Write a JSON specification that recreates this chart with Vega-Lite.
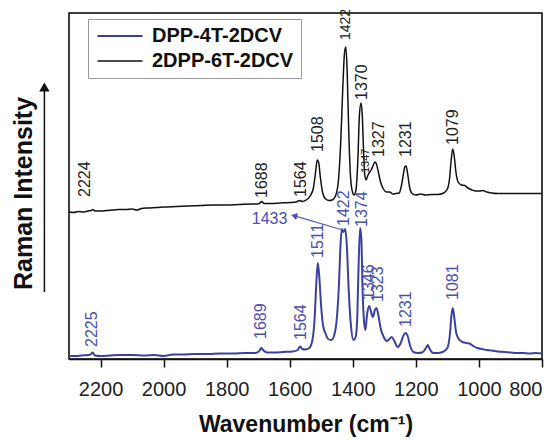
{
  "$schema": "https://vega.github.io/schema/vega-lite/v6.json",
  "width": 473,
  "height": 346,
  "autosize": {"type": "none"},
  "padding": {"left": 69, "top": 13, "right": 16, "bottom": 81},
  "background": "white",
  "config": {
    "view": {"stroke": "black", "strokeWidth": 1.5},
    "font": "Liberation Sans",
    "axis": {"grid": false}
  },
  "datasets": {
    "spectra": [
      {"series": "DPP-4T-2DCV", "wn": 2300, "I": 1.5},
      {"series": "DPP-4T-2DCV", "wn": 2280, "I": 1.5},
      {"series": "DPP-4T-2DCV", "wn": 2260, "I": 1.75},
      {"series": "DPP-4T-2DCV", "wn": 2240, "I": 2},
      {"series": "DPP-4T-2DCV", "wn": 2232, "I": 2.25},
      {"series": "DPP-4T-2DCV", "wn": 2225, "I": 3.25},
      {"series": "DPP-4T-2DCV", "wn": 2218, "I": 1.75},
      {"series": "DPP-4T-2DCV", "wn": 2200, "I": 1.5},
      {"series": "DPP-4T-2DCV", "wn": 2170, "I": 1.75},
      {"series": "DPP-4T-2DCV", "wn": 2140, "I": 2},
      {"series": "DPP-4T-2DCV", "wn": 2100, "I": 2},
      {"series": "DPP-4T-2DCV", "wn": 2060, "I": 1.75},
      {"series": "DPP-4T-2DCV", "wn": 2030, "I": 2},
      {"series": "DPP-4T-2DCV", "wn": 2000, "I": 1.5},
      {"series": "DPP-4T-2DCV", "wn": 1970, "I": 2.25},
      {"series": "DPP-4T-2DCV", "wn": 1940, "I": 2.25},
      {"series": "DPP-4T-2DCV", "wn": 1900, "I": 2.5},
      {"series": "DPP-4T-2DCV", "wn": 1860, "I": 2.5},
      {"series": "DPP-4T-2DCV", "wn": 1820, "I": 2.75},
      {"series": "DPP-4T-2DCV", "wn": 1780, "I": 2.75},
      {"series": "DPP-4T-2DCV", "wn": 1740, "I": 3},
      {"series": "DPP-4T-2DCV", "wn": 1710, "I": 3},
      {"series": "DPP-4T-2DCV", "wn": 1698, "I": 3.75},
      {"series": "DPP-4T-2DCV", "wn": 1690, "I": 5.5},
      {"series": "DPP-4T-2DCV", "wn": 1683, "I": 4.25},
      {"series": "DPP-4T-2DCV", "wn": 1672, "I": 3.25},
      {"series": "DPP-4T-2DCV", "wn": 1650, "I": 3.25},
      {"series": "DPP-4T-2DCV", "wn": 1620, "I": 3.5},
      {"series": "DPP-4T-2DCV", "wn": 1590, "I": 3.75},
      {"series": "DPP-4T-2DCV", "wn": 1575, "I": 4.5},
      {"series": "DPP-4T-2DCV", "wn": 1567, "I": 6.25},
      {"series": "DPP-4T-2DCV", "wn": 1560, "I": 5},
      {"series": "DPP-4T-2DCV", "wn": 1550, "I": 4.75},
      {"series": "DPP-4T-2DCV", "wn": 1538, "I": 5.5},
      {"series": "DPP-4T-2DCV", "wn": 1528, "I": 9.5},
      {"series": "DPP-4T-2DCV", "wn": 1521, "I": 20.5},
      {"series": "DPP-4T-2DCV", "wn": 1516, "I": 37},
      {"series": "DPP-4T-2DCV", "wn": 1511, "I": 48},
      {"series": "DPP-4T-2DCV", "wn": 1506, "I": 40.5},
      {"series": "DPP-4T-2DCV", "wn": 1500, "I": 25.5},
      {"series": "DPP-4T-2DCV", "wn": 1494, "I": 16.5},
      {"series": "DPP-4T-2DCV", "wn": 1486, "I": 12.5},
      {"series": "DPP-4T-2DCV", "wn": 1478, "I": 10},
      {"series": "DPP-4T-2DCV", "wn": 1468, "I": 9.5},
      {"series": "DPP-4T-2DCV", "wn": 1458, "I": 12.5},
      {"series": "DPP-4T-2DCV", "wn": 1450, "I": 21.5},
      {"series": "DPP-4T-2DCV", "wn": 1444, "I": 37},
      {"series": "DPP-4T-2DCV", "wn": 1439, "I": 57},
      {"series": "DPP-4T-2DCV", "wn": 1435, "I": 65},
      {"series": "DPP-4T-2DCV", "wn": 1430, "I": 63.5},
      {"series": "DPP-4T-2DCV", "wn": 1424, "I": 65},
      {"series": "DPP-4T-2DCV", "wn": 1419, "I": 57},
      {"series": "DPP-4T-2DCV", "wn": 1413, "I": 34.5},
      {"series": "DPP-4T-2DCV", "wn": 1406, "I": 17},
      {"series": "DPP-4T-2DCV", "wn": 1398, "I": 9.5},
      {"series": "DPP-4T-2DCV", "wn": 1391, "I": 11},
      {"series": "DPP-4T-2DCV", "wn": 1386, "I": 20.5},
      {"series": "DPP-4T-2DCV", "wn": 1382, "I": 44.5},
      {"series": "DPP-4T-2DCV", "wn": 1377, "I": 65.5},
      {"series": "DPP-4T-2DCV", "wn": 1373, "I": 60.5},
      {"series": "DPP-4T-2DCV", "wn": 1369, "I": 34.5},
      {"series": "DPP-4T-2DCV", "wn": 1364, "I": 18},
      {"series": "DPP-4T-2DCV", "wn": 1360, "I": 14.5},
      {"series": "DPP-4T-2DCV", "wn": 1355, "I": 22},
      {"series": "DPP-4T-2DCV", "wn": 1348, "I": 26.5},
      {"series": "DPP-4T-2DCV", "wn": 1342, "I": 23.5},
      {"series": "DPP-4T-2DCV", "wn": 1336, "I": 21},
      {"series": "DPP-4T-2DCV", "wn": 1330, "I": 24.5},
      {"series": "DPP-4T-2DCV", "wn": 1325, "I": 25.5},
      {"series": "DPP-4T-2DCV", "wn": 1319, "I": 22},
      {"series": "DPP-4T-2DCV", "wn": 1312, "I": 15.5},
      {"series": "DPP-4T-2DCV", "wn": 1302, "I": 11},
      {"series": "DPP-4T-2DCV", "wn": 1292, "I": 9},
      {"series": "DPP-4T-2DCV", "wn": 1284, "I": 10},
      {"series": "DPP-4T-2DCV", "wn": 1277, "I": 11},
      {"series": "DPP-4T-2DCV", "wn": 1268, "I": 9},
      {"series": "DPP-4T-2DCV", "wn": 1258, "I": 6},
      {"series": "DPP-4T-2DCV", "wn": 1248, "I": 8},
      {"series": "DPP-4T-2DCV", "wn": 1240, "I": 11.5},
      {"series": "DPP-4T-2DCV", "wn": 1233, "I": 13},
      {"series": "DPP-4T-2DCV", "wn": 1226, "I": 11.5},
      {"series": "DPP-4T-2DCV", "wn": 1218, "I": 6.5},
      {"series": "DPP-4T-2DCV", "wn": 1208, "I": 3.5},
      {"series": "DPP-4T-2DCV", "wn": 1195, "I": 3},
      {"series": "DPP-4T-2DCV", "wn": 1180, "I": 3.25},
      {"series": "DPP-4T-2DCV", "wn": 1168, "I": 5.5},
      {"series": "DPP-4T-2DCV", "wn": 1162, "I": 7},
      {"series": "DPP-4T-2DCV", "wn": 1156, "I": 5},
      {"series": "DPP-4T-2DCV", "wn": 1145, "I": 3},
      {"series": "DPP-4T-2DCV", "wn": 1130, "I": 3},
      {"series": "DPP-4T-2DCV", "wn": 1115, "I": 3.5},
      {"series": "DPP-4T-2DCV", "wn": 1100, "I": 5.5},
      {"series": "DPP-4T-2DCV", "wn": 1092, "I": 12.5},
      {"series": "DPP-4T-2DCV", "wn": 1087, "I": 22},
      {"series": "DPP-4T-2DCV", "wn": 1083, "I": 25.5},
      {"series": "DPP-4T-2DCV", "wn": 1078, "I": 20.5},
      {"series": "DPP-4T-2DCV", "wn": 1072, "I": 13},
      {"series": "DPP-4T-2DCV", "wn": 1064, "I": 10},
      {"series": "DPP-4T-2DCV", "wn": 1052, "I": 8.5},
      {"series": "DPP-4T-2DCV", "wn": 1040, "I": 8},
      {"series": "DPP-4T-2DCV", "wn": 1030, "I": 7.75},
      {"series": "DPP-4T-2DCV", "wn": 1018, "I": 6.5},
      {"series": "DPP-4T-2DCV", "wn": 1005, "I": 5.5},
      {"series": "DPP-4T-2DCV", "wn": 990, "I": 5},
      {"series": "DPP-4T-2DCV", "wn": 975, "I": 4.5},
      {"series": "DPP-4T-2DCV", "wn": 960, "I": 4.25},
      {"series": "DPP-4T-2DCV", "wn": 940, "I": 3.75},
      {"series": "DPP-4T-2DCV", "wn": 920, "I": 3.5},
      {"series": "DPP-4T-2DCV", "wn": 900, "I": 3.25},
      {"series": "DPP-4T-2DCV", "wn": 880, "I": 3},
      {"series": "DPP-4T-2DCV", "wn": 860, "I": 3},
      {"series": "DPP-4T-2DCV", "wn": 840, "I": 2.75},
      {"series": "DPP-4T-2DCV", "wn": 820, "I": 3},
      {"series": "DPP-4T-2DCV", "wn": 800, "I": 2.75},

      {"series": "2DPP-6T-2DCV", "wn": 2300, "I": 73.5},
      {"series": "2DPP-6T-2DCV", "wn": 2285, "I": 73.25},
      {"series": "2DPP-6T-2DCV", "wn": 2270, "I": 73.75},
      {"series": "2DPP-6T-2DCV", "wn": 2255, "I": 73.5},
      {"series": "2DPP-6T-2DCV", "wn": 2240, "I": 74},
      {"series": "2DPP-6T-2DCV", "wn": 2230, "I": 74.25},
      {"series": "2DPP-6T-2DCV", "wn": 2224, "I": 74.75},
      {"series": "2DPP-6T-2DCV", "wn": 2218, "I": 74},
      {"series": "2DPP-6T-2DCV", "wn": 2200, "I": 74},
      {"series": "2DPP-6T-2DCV", "wn": 2180, "I": 74.25},
      {"series": "2DPP-6T-2DCV", "wn": 2160, "I": 74.5},
      {"series": "2DPP-6T-2DCV", "wn": 2140, "I": 74.75},
      {"series": "2DPP-6T-2DCV", "wn": 2120, "I": 74.75},
      {"series": "2DPP-6T-2DCV", "wn": 2100, "I": 75},
      {"series": "2DPP-6T-2DCV", "wn": 2085, "I": 74.5},
      {"series": "2DPP-6T-2DCV", "wn": 2070, "I": 75.25},
      {"series": "2DPP-6T-2DCV", "wn": 2050, "I": 75.5},
      {"series": "2DPP-6T-2DCV", "wn": 2020, "I": 75.75},
      {"series": "2DPP-6T-2DCV", "wn": 2000, "I": 76},
      {"series": "2DPP-6T-2DCV", "wn": 1960, "I": 76.25},
      {"series": "2DPP-6T-2DCV", "wn": 1920, "I": 76.5},
      {"series": "2DPP-6T-2DCV", "wn": 1880, "I": 76.75},
      {"series": "2DPP-6T-2DCV", "wn": 1840, "I": 77},
      {"series": "2DPP-6T-2DCV", "wn": 1800, "I": 77},
      {"series": "2DPP-6T-2DCV", "wn": 1760, "I": 77.25},
      {"series": "2DPP-6T-2DCV", "wn": 1720, "I": 77.5},
      {"series": "2DPP-6T-2DCV", "wn": 1700, "I": 77.5},
      {"series": "2DPP-6T-2DCV", "wn": 1693, "I": 78.25},
      {"series": "2DPP-6T-2DCV", "wn": 1688, "I": 78.75},
      {"series": "2DPP-6T-2DCV", "wn": 1682, "I": 77.75},
      {"series": "2DPP-6T-2DCV", "wn": 1660, "I": 77.75},
      {"series": "2DPP-6T-2DCV", "wn": 1630, "I": 78},
      {"series": "2DPP-6T-2DCV", "wn": 1600, "I": 78.25},
      {"series": "2DPP-6T-2DCV", "wn": 1580, "I": 78.5},
      {"series": "2DPP-6T-2DCV", "wn": 1568, "I": 79.25},
      {"series": "2DPP-6T-2DCV", "wn": 1560, "I": 78.75},
      {"series": "2DPP-6T-2DCV", "wn": 1548, "I": 79.5},
      {"series": "2DPP-6T-2DCV", "wn": 1535, "I": 81.5},
      {"series": "2DPP-6T-2DCV", "wn": 1525, "I": 85.5},
      {"series": "2DPP-6T-2DCV", "wn": 1518, "I": 93.5},
      {"series": "2DPP-6T-2DCV", "wn": 1513, "I": 99.5},
      {"series": "2DPP-6T-2DCV", "wn": 1508, "I": 98},
      {"series": "2DPP-6T-2DCV", "wn": 1503, "I": 91},
      {"series": "2DPP-6T-2DCV", "wn": 1496, "I": 83.5},
      {"series": "2DPP-6T-2DCV", "wn": 1486, "I": 80},
      {"series": "2DPP-6T-2DCV", "wn": 1475, "I": 79.25},
      {"series": "2DPP-6T-2DCV", "wn": 1465, "I": 79.5},
      {"series": "2DPP-6T-2DCV", "wn": 1455, "I": 81.5},
      {"series": "2DPP-6T-2DCV", "wn": 1446, "I": 88.5},
      {"series": "2DPP-6T-2DCV", "wn": 1438, "I": 109.5},
      {"series": "2DPP-6T-2DCV", "wn": 1432, "I": 134.5},
      {"series": "2DPP-6T-2DCV", "wn": 1426, "I": 153.5},
      {"series": "2DPP-6T-2DCV", "wn": 1422, "I": 156},
      {"series": "2DPP-6T-2DCV", "wn": 1418, "I": 144.5},
      {"series": "2DPP-6T-2DCV", "wn": 1413, "I": 114.5},
      {"series": "2DPP-6T-2DCV", "wn": 1407, "I": 90.5},
      {"series": "2DPP-6T-2DCV", "wn": 1401, "I": 83.5},
      {"series": "2DPP-6T-2DCV", "wn": 1396, "I": 82},
      {"series": "2DPP-6T-2DCV", "wn": 1390, "I": 84.5},
      {"series": "2DPP-6T-2DCV", "wn": 1384, "I": 99.5},
      {"series": "2DPP-6T-2DCV", "wn": 1379, "I": 122},
      {"series": "2DPP-6T-2DCV", "wn": 1374, "I": 128},
      {"series": "2DPP-6T-2DCV", "wn": 1370, "I": 122},
      {"series": "2DPP-6T-2DCV", "wn": 1366, "I": 104.5},
      {"series": "2DPP-6T-2DCV", "wn": 1362, "I": 92},
      {"series": "2DPP-6T-2DCV", "wn": 1358, "I": 89.5},
      {"series": "2DPP-6T-2DCV", "wn": 1353, "I": 91.5},
      {"series": "2DPP-6T-2DCV", "wn": 1348, "I": 93},
      {"series": "2DPP-6T-2DCV", "wn": 1342, "I": 94.5},
      {"series": "2DPP-6T-2DCV", "wn": 1336, "I": 96.5},
      {"series": "2DPP-6T-2DCV", "wn": 1330, "I": 98.5},
      {"series": "2DPP-6T-2DCV", "wn": 1325, "I": 97.5},
      {"series": "2DPP-6T-2DCV", "wn": 1319, "I": 93.5},
      {"series": "2DPP-6T-2DCV", "wn": 1312, "I": 88.5},
      {"series": "2DPP-6T-2DCV", "wn": 1303, "I": 85},
      {"series": "2DPP-6T-2DCV", "wn": 1293, "I": 83.5},
      {"series": "2DPP-6T-2DCV", "wn": 1283, "I": 83.5},
      {"series": "2DPP-6T-2DCV", "wn": 1273, "I": 82.5},
      {"series": "2DPP-6T-2DCV", "wn": 1263, "I": 82.75},
      {"series": "2DPP-6T-2DCV", "wn": 1253, "I": 83},
      {"series": "2DPP-6T-2DCV", "wn": 1246, "I": 86.5},
      {"series": "2DPP-6T-2DCV", "wn": 1240, "I": 92},
      {"series": "2DPP-6T-2DCV", "wn": 1235, "I": 96},
      {"series": "2DPP-6T-2DCV", "wn": 1231, "I": 96.5},
      {"series": "2DPP-6T-2DCV", "wn": 1226, "I": 92.5},
      {"series": "2DPP-6T-2DCV", "wn": 1220, "I": 86},
      {"series": "2DPP-6T-2DCV", "wn": 1212, "I": 82.75},
      {"series": "2DPP-6T-2DCV", "wn": 1200, "I": 82},
      {"series": "2DPP-6T-2DCV", "wn": 1185, "I": 82.5},
      {"series": "2DPP-6T-2DCV", "wn": 1170, "I": 82},
      {"series": "2DPP-6T-2DCV", "wn": 1150, "I": 82.25},
      {"series": "2DPP-6T-2DCV", "wn": 1130, "I": 82.25},
      {"series": "2DPP-6T-2DCV", "wn": 1112, "I": 83},
      {"series": "2DPP-6T-2DCV", "wn": 1100, "I": 85},
      {"series": "2DPP-6T-2DCV", "wn": 1093, "I": 90.5},
      {"series": "2DPP-6T-2DCV", "wn": 1088, "I": 99.5},
      {"series": "2DPP-6T-2DCV", "wn": 1083, "I": 105},
      {"series": "2DPP-6T-2DCV", "wn": 1078, "I": 101},
      {"series": "2DPP-6T-2DCV", "wn": 1073, "I": 93.5},
      {"series": "2DPP-6T-2DCV", "wn": 1066, "I": 88.5},
      {"series": "2DPP-6T-2DCV", "wn": 1056, "I": 87},
      {"series": "2DPP-6T-2DCV", "wn": 1045, "I": 86.75},
      {"series": "2DPP-6T-2DCV", "wn": 1035, "I": 85.5},
      {"series": "2DPP-6T-2DCV", "wn": 1022, "I": 84.5},
      {"series": "2DPP-6T-2DCV", "wn": 1010, "I": 84},
      {"series": "2DPP-6T-2DCV", "wn": 997, "I": 84},
      {"series": "2DPP-6T-2DCV", "wn": 988, "I": 84.25},
      {"series": "2DPP-6T-2DCV", "wn": 975, "I": 83.5},
      {"series": "2DPP-6T-2DCV", "wn": 960, "I": 83},
      {"series": "2DPP-6T-2DCV", "wn": 940, "I": 82.75},
      {"series": "2DPP-6T-2DCV", "wn": 900, "I": 82.75},
      {"series": "2DPP-6T-2DCV", "wn": 860, "I": 82.75},
      {"series": "2DPP-6T-2DCV", "wn": 820, "I": 82.75},
      {"series": "2DPP-6T-2DCV", "wn": 800, "I": 82.75}
    ],
    "blackPeaks": [
      {"label": "2224", "wn": 2250, "I": 81},
      {"label": "1688", "wn": 1689, "I": 80.5},
      {"label": "1564", "wn": 1565, "I": 81},
      {"label": "1508", "wn": 1511, "I": 103.5},
      {"label": "1370", "wn": 1371, "I": 129.5},
      {"label": "1327", "wn": 1316, "I": 101},
      {"label": "1231", "wn": 1232, "I": 101},
      {"label": "1079", "wn": 1083, "I": 107}
    ],
    "topPeak": [
      {"label": "1422", "wn": 1422, "I": 159.5}
    ],
    "smallPeaks": [
      {"label": "1347", "wn": 1357, "I": 93}
    ],
    "bluePeaks": [
      {"label": "2225", "wn": 2226, "I": 6},
      {"label": "1689", "wn": 1692, "I": 10},
      {"label": "1564", "wn": 1565, "I": 9.5},
      {"label": "1511", "wn": 1511, "I": 50.5},
      {"label": "1422", "wn": 1427, "I": 66.5},
      {"label": "1374", "wn": 1371, "I": 66},
      {"label": "1346", "wn": 1349, "I": 29.5},
      {"label": "1323", "wn": 1321, "I": 28.5},
      {"label": "1231", "wn": 1232, "I": 16},
      {"label": "1081", "wn": 1083, "I": 29.5}
    ],
    "note": [
      {"label": "1433", "wn": 1664, "I": 70}
    ],
    "noteArrow": [
      {"wn": 1432, "I": 64.5, "wn2": 1590, "I2": 71.8}
    ],
    "noteHead": [
      {"wn": 1586, "I": 71.6}
    ],
    "axisArrow": [
      {"wn": 2378, "I": 33.5, "I2": 135.5}
    ],
    "axisHead": [
      {"wn": 2378, "I": 136}
    ]
  },
  "layer": [
    {
      "data": {"name": "spectra"},
      "mark": {"type": "line", "interpolate": "monotone"},
      "encoding": {
        "x": {
          "field": "wn", "type": "quantitative",
          "scale": {"domain": [2300, 800], "nice": false, "zero": false},
          "axis": {
            "values": [2200, 2000, 1800, 1600, 1400, 1200, 1000, 800],
            "format": "d",
            "title": "Wavenumber (cm⁻¹)",
            "titleFontSize": 23, "titleFontWeight": "bold", "titleColor": "#111",
            "titlePadding": 14,
            "labelFontSize": 20, "labelColor": "#222", "labelPadding": 12,
            "tickSize": 8, "tickColor": "#111", "tickWidth": 1.5,
            "domainColor": "#111", "domainWidth": 1.5
          }
        },
        "y": {
          "field": "I", "type": "quantitative",
          "scale": {"domain": [0, 173], "nice": false, "zero": false},
          "axis": {
            "title": "Raman Intensity",
            "titleFontSize": 25, "titleFontWeight": "bold", "titleColor": "#111",
            "titlePadding": 33, "titleY": 180,
            "ticks": false, "labels": false, "domain": false
          }
        },
        "color": {
          "field": "series", "type": "nominal",
          "scale": {"domain": ["DPP-4T-2DCV", "2DPP-6T-2DCV"], "range": ["#3c40a0", "#111111"]},
          "legend": {
            "orient": "none", "legendX": 19, "legendY": 6, "title": null,
            "symbolType": "M-1,0H5", "symbolSize": 225, "symbolStrokeWidth": 1.5,
            "labelFontSize": 20, "labelFontWeight": "bold", "labelColor": "#111",
            "labelOffset": 37, "padding": 7, "rowPadding": 5,
            "strokeColor": "#999", "fillColor": "white"
          }
        },
        "strokeWidth": {
          "field": "series", "type": "nominal",
          "scale": {"domain": ["DPP-4T-2DCV", "2DPP-6T-2DCV"], "range": [2, 1.5]},
          "legend": null
        }
      }
    },
    {
      "data": {"name": "blackPeaks"},
      "mark": {"type": "text", "angle": 270, "align": "left", "baseline": "middle", "fontSize": 16, "color": "#222"},
      "encoding": {
        "x": {"field": "wn", "type": "quantitative"},
        "y": {"field": "I", "type": "quantitative"},
        "text": {"field": "label"}
      }
    },
    {
      "data": {"name": "topPeak"},
      "mark": {"type": "text", "angle": 270, "align": "left", "baseline": "middle", "fontSize": 14, "color": "#222"},
      "encoding": {
        "x": {"field": "wn", "type": "quantitative"},
        "y": {"field": "I", "type": "quantitative"},
        "text": {"field": "label"}
      }
    },
    {
      "data": {"name": "smallPeaks"},
      "mark": {"type": "text", "angle": 270, "align": "left", "baseline": "middle", "fontSize": 11, "color": "#222"},
      "encoding": {
        "x": {"field": "wn", "type": "quantitative"},
        "y": {"field": "I", "type": "quantitative"},
        "text": {"field": "label"}
      }
    },
    {
      "data": {"name": "bluePeaks"},
      "mark": {"type": "text", "angle": 270, "align": "left", "baseline": "middle", "fontSize": 16, "color": "#4a4fb2"},
      "encoding": {
        "x": {"field": "wn", "type": "quantitative"},
        "y": {"field": "I", "type": "quantitative"},
        "text": {"field": "label"}
      }
    },
    {
      "data": {"name": "note"},
      "mark": {"type": "text", "align": "center", "baseline": "middle", "fontSize": 16, "color": "#4a4fb2"},
      "encoding": {
        "x": {"field": "wn", "type": "quantitative"},
        "y": {"field": "I", "type": "quantitative"},
        "text": {"field": "label"}
      }
    },
    {
      "data": {"name": "noteArrow"},
      "mark": {"type": "rule", "color": "#5a5fb8", "strokeWidth": 1.2},
      "encoding": {
        "x": {"field": "wn", "type": "quantitative"},
        "y": {"field": "I", "type": "quantitative"},
        "x2": {"field": "wn2"},
        "y2": {"field": "I2"}
      }
    },
    {
      "data": {"name": "noteHead"},
      "mark": {"type": "point", "shape": "triangle-up", "filled": true, "size": 50, "angle": 286, "color": "#4a4fb2", "opacity": 1},
      "encoding": {
        "x": {"field": "wn", "type": "quantitative"},
        "y": {"field": "I", "type": "quantitative"}
      }
    },
    {
      "data": {"name": "axisArrow"},
      "mark": {"type": "rule", "color": "#111", "strokeWidth": 1.5},
      "encoding": {
        "x": {"field": "wn", "type": "quantitative"},
        "y": {"field": "I", "type": "quantitative"},
        "y2": {"field": "I2"}
      }
    },
    {
      "data": {"name": "axisHead"},
      "mark": {"type": "point", "shape": "triangle-up", "filled": true, "size": 110, "color": "#111", "opacity": 1},
      "encoding": {
        "x": {"field": "wn", "type": "quantitative"},
        "y": {"field": "I", "type": "quantitative"}
      }
    }
  ]
}
